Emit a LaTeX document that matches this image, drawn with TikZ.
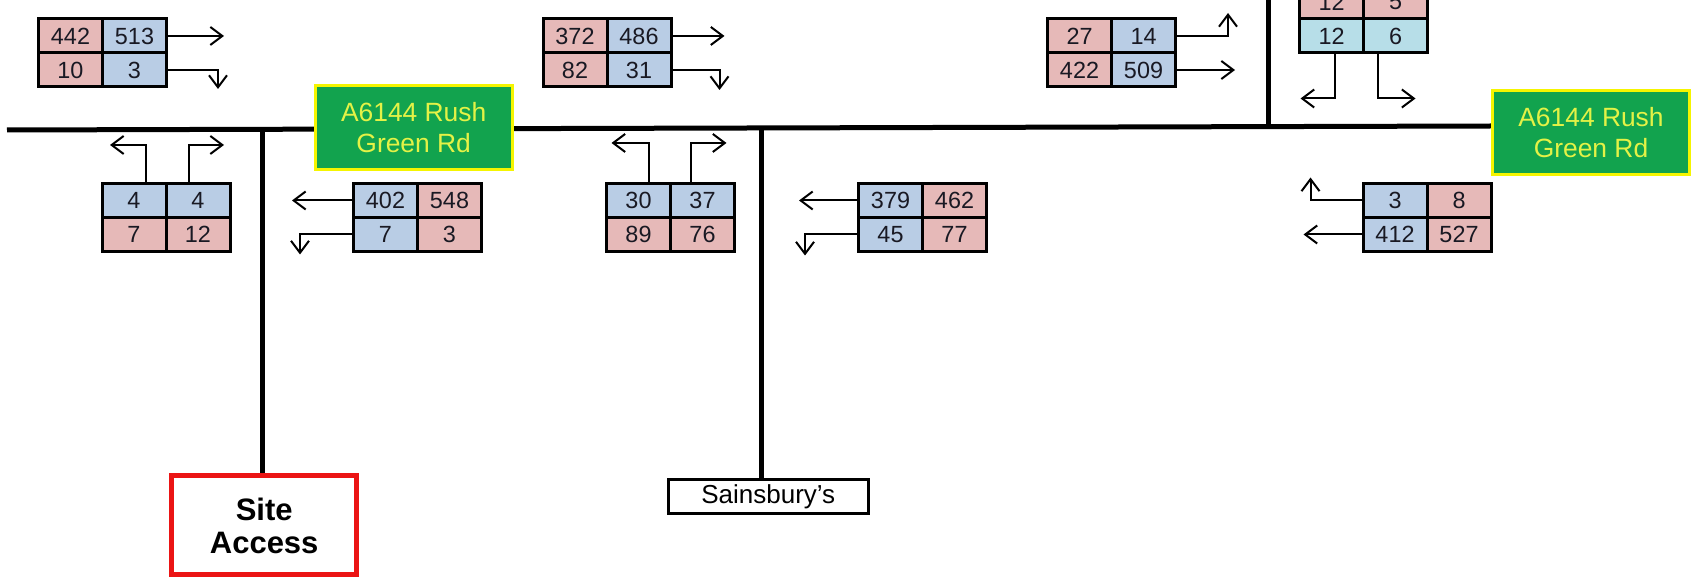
\documentclass[tikz,border=0pt]{standalone}
\usepackage{fontspec}
\setmainfont{Liberation Sans}
\usetikzlibrary{arrows.meta,calc}
\definecolor{pk}{RGB}{230,185,184}
\definecolor{bl}{RGB}{185,205,229}
\definecolor{cy}{RGB}{183,222,232}
\definecolor{grn}{RGB}{18,163,78}
\definecolor{ylw}{RGB}{245,245,0}
\definecolor{ytxt}{RGB}{228,242,70}
\definecolor{txt}{RGB}{25,25,35}
\definecolor{redb}{RGB}{235,20,20}
\newcommand\trow[7]{%
  \node[cell,fill=#4] (#1-1) at (#2+32,#3+17) {#5};
  \node[cell,fill=#6] (#1-2) at (#2+96,#3+17) {#7};
}
\newcommand\tbox[9]{% name, left, top, c1,t1,c2,t2 (top row) ; then bottom via \brow
  \trow{#1t}{#2}{#3}{#4}{#5}{#6}{#7}%
  \def\tbname{#1}\def\tbx{#2}\def\tby{#3}%
  \trow{#1b}{#2}{#3+34}{#8}{#9}%
}
\newcommand\brow[2]{{#1}{#2}}
\tikzset{
  cell/.style={draw, line width=1.5pt, minimum width=32pt, minimum height=17pt,
    inner sep=0pt, text=txt, font=\fontsize{11.7}{12}\selectfont},
  arr/.style={line width=1pt, -{Straight Barb[length=6pt,width=9pt]}},
  road/.style={line width=2.5pt},
  green/.style={draw=ylw, fill=grn, line width=1.5pt, text=ytxt, align=center,
    inner sep=0pt, minimum width=98.5pt, minimum height=42pt,
    font=\fontsize{13.2}{15.5}\selectfont},
  site/.style={draw=redb, line width=2.5pt, fill=white, align=center, inner sep=0pt,
    minimum width=92.5pt, minimum height=49.5pt,
    font=\fontsize{15.5}{16.5}\selectfont\bfseries},
  shop/.style={draw, line width=1.5pt, fill=white, inner sep=0pt,
    minimum width=100pt, minimum height=17.3pt, font=\fontsize{13}{14}\selectfont}
}
\begin{document}
\begin{tikzpicture}[x=0.5pt,y=-0.5pt]
\clip (0,0) rectangle (1697,581);
\fill[white] (0,0) rectangle (1697,581);
% road coordinates
\coordinate (rL) at (7,130);
\coordinate (rR) at (1493,126);
\coordinate (j1) at (262.5,129.6);
\coordinate (j2) at (761,127.5);
\coordinate (j3) at (1268,126);
\coordinate (topend) at (1268,-5);
\draw[road] (rL) -- (rR);
\draw[road] (j3) -- (topend);
% labels
\node[green] (g1) at (413.7,127.5) {A6144 Rush\\Green Rd};
\node[green] (g2) at (1591,132.5) {A6144 Rush\\Green Rd};
\node[site] (site) at (264.2,525.5) {Site\\Access};
\node[shop] (shop) at (768.3,496.7) {Sainsbury's};
\draw[road] (j1) -- (j1 |- site.north);
\draw[road] (j2) -- (j2 |- shop.north);
% boxes
\trow{b1t}{38.5}{19}{pk}{442}{bl}{513}
\trow{b1b}{38.5}{53}{pk}{10}{bl}{3}
\trow{b2t}{102}{183.5}{bl}{4}{bl}{4}
\trow{b2b}{102}{217.5}{pk}{7}{pk}{12}
\trow{b3t}{353.5}{183.5}{bl}{402}{pk}{548}
\trow{b3b}{353.5}{217.5}{bl}{7}{pk}{3}
\trow{b4t}{543}{19}{pk}{372}{bl}{486}
\trow{b4b}{543}{53}{pk}{82}{bl}{31}
\trow{b5t}{606.5}{183.5}{bl}{30}{bl}{37}
\trow{b5b}{606.5}{217.5}{pk}{89}{pk}{76}
\trow{b6t}{858.5}{183.5}{bl}{379}{pk}{462}
\trow{b6b}{858.5}{217.5}{bl}{45}{pk}{77}
\trow{b7t}{1047.5}{19}{pk}{27}{bl}{14}
\trow{b7b}{1047.5}{53}{pk}{422}{bl}{509}
\trow{b8t}{1299.5}{-15}{pk}{12}{pk}{5}
\trow{b8b}{1299.5}{19}{cy}{12}{cy}{6}
\trow{b9t}{1363}{183.5}{bl}{3}{pk}{8}
\trow{b9b}{1363}{217.5}{bl}{412}{pk}{527}
% arrows
\draw[arr] (b1t-2.east) -- ++(56,0);
\draw[arr] (b1b-2.east) -- ++(50,0) -- ++(0,19);
\draw[arr] ($(b2t-1.north)+(12,0)$) |- ++(-36,-37);
\draw[arr] ($(b2t-2.north)+(-9,0)$) |- ++(35,-37);
\draw[arr] (b3t-1.west) -- ++(-60,0);
\draw[arr] (b3b-1.west) -- ++(-52,0) -- ++(0,20);
\draw[arr] (b4t-2.east) -- ++(52,0);
\draw[arr] (b4b-2.east) -- ++(47,0) -- ++(0,20);
\draw[arr] ($(b5t-1.north)+(10,0)$) |- ++(-37,-39);
\draw[arr] ($(b5t-2.north)+(-12,0)$) |- ++(36,-39);
\draw[arr] (b6t-1.west) -- ++(-58,0);
\draw[arr] (b6b-1.west) -- ++(-52,0) -- ++(0,21);
\draw[arr] (b7t-2.east) -- ++(51,0) -- ++(0,-23);
\draw[arr] (b7b-2.east) -- ++(58,0);
\draw[arr] ($(b8b-1.south)+(3,0)$) |- ++(-34,44);
\draw[arr] ($(b8b-2.south)+(-18,0)$) |- ++(38,44);
\draw[arr] (b9t-1.west) -- ++(-51,0) -- ++(0,-23);
\draw[arr] (b9b-1.west) -- ++(-58,0);
\end{tikzpicture}
\end{document}
